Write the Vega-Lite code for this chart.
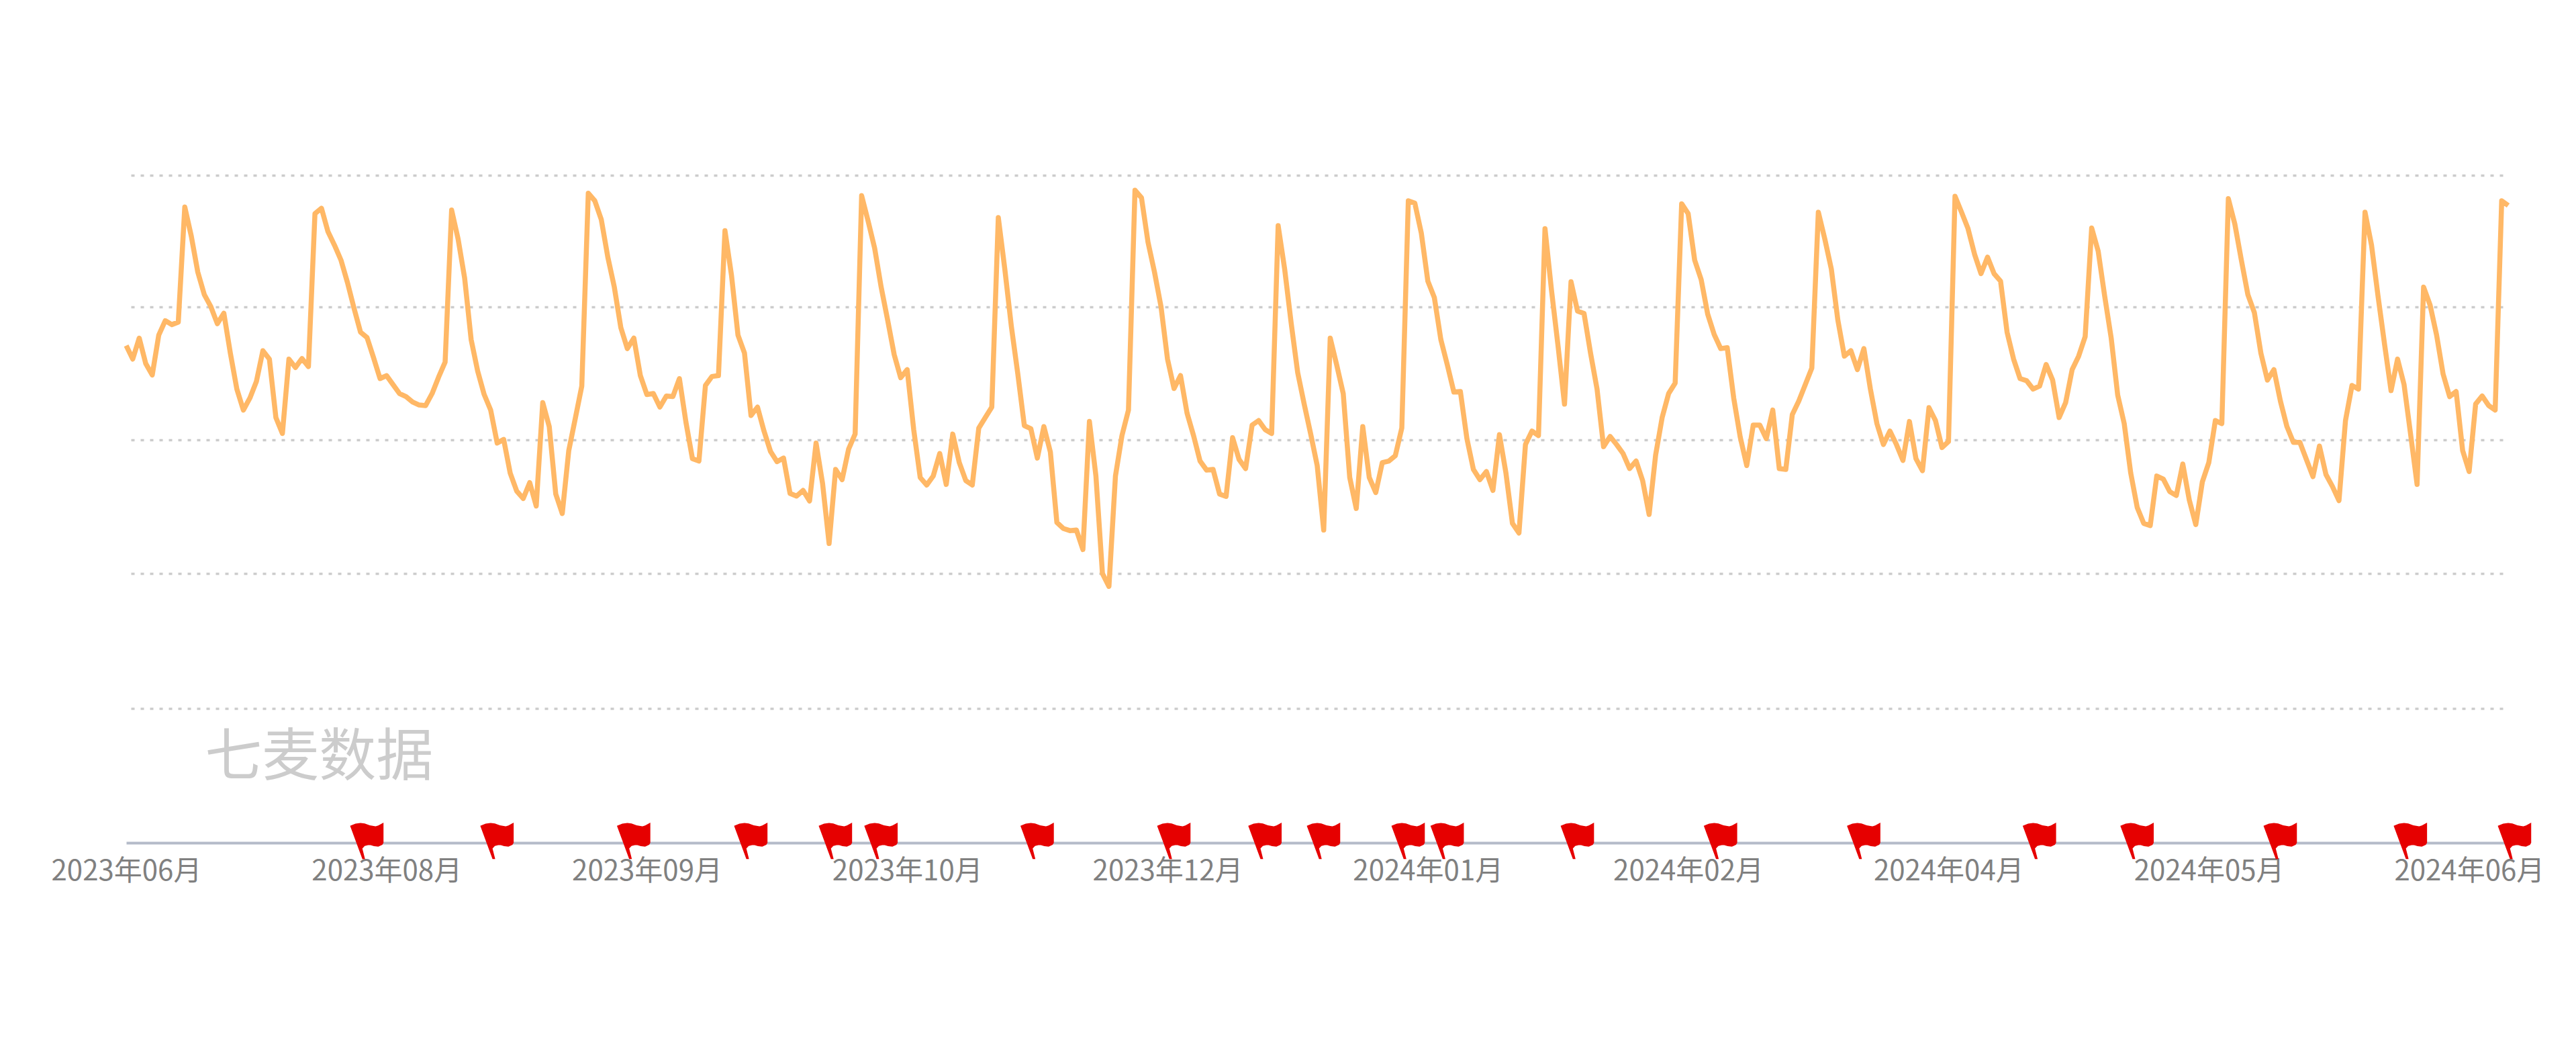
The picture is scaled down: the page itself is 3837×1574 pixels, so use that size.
{"$schema":"https://vega.github.io/schema/vega-lite/v6.json","autosize":{"type":"none"},"padding":{"left":188,"top":261,"right":101,"bottom":319},"width":3548,"height":994,"background":"white","config":{"view":{"stroke":null}},
"datasets":{
"trend":[
{"date":"2023-06-26","v":1658},{"date":"2023-06-27","v":1613},{"date":"2023-06-28","v":1683},{"date":"2023-06-29","v":1598},{"date":"2023-06-30","v":1560},
{"date":"2023-07-01","v":1693},{"date":"2023-07-02","v":1741},{"date":"2023-07-03","v":1728},{"date":"2023-07-04","v":1736},{"date":"2023-07-05","v":2120},{"date":"2023-07-06","v":2023},{"date":"2023-07-07","v":1903},{"date":"2023-07-08","v":1828},{"date":"2023-07-09","v":1788},{"date":"2023-07-10","v":1731},{"date":"2023-07-11","v":1766},{"date":"2023-07-12","v":1633},{"date":"2023-07-13","v":1513},{"date":"2023-07-14","v":1443},{"date":"2023-07-15","v":1483},{"date":"2023-07-16","v":1538},{"date":"2023-07-17","v":1641},{"date":"2023-07-18","v":1613},{"date":"2023-07-19","v":1418},{"date":"2023-07-20","v":1365},{"date":"2023-07-21","v":1613},{"date":"2023-07-22","v":1585},{"date":"2023-07-23","v":1615},{"date":"2023-07-24","v":1588},{"date":"2023-07-25","v":2098},{"date":"2023-07-26","v":2116},{"date":"2023-07-27","v":2038},{"date":"2023-07-28","v":1993},{"date":"2023-07-29","v":1943},{"date":"2023-07-30","v":1868},{"date":"2023-07-31","v":1783},
{"date":"2023-08-01","v":1703},{"date":"2023-08-02","v":1685},{"date":"2023-08-03","v":1618},{"date":"2023-08-04","v":1548},{"date":"2023-08-05","v":1558},{"date":"2023-08-06","v":1528},{"date":"2023-08-07","v":1498},{"date":"2023-08-08","v":1488},{"date":"2023-08-09","v":1470},{"date":"2023-08-10","v":1460},{"date":"2023-08-11","v":1458},{"date":"2023-08-12","v":1498},{"date":"2023-08-13","v":1553},{"date":"2023-08-14","v":1603},{"date":"2023-08-15","v":2110},{"date":"2023-08-16","v":2013},{"date":"2023-08-17","v":1883},{"date":"2023-08-18","v":1678},{"date":"2023-08-19","v":1573},{"date":"2023-08-20","v":1495},{"date":"2023-08-21","v":1443},{"date":"2023-08-22","v":1333},{"date":"2023-08-23","v":1345},{"date":"2023-08-24","v":1233},{"date":"2023-08-25","v":1173},{"date":"2023-08-26","v":1148},{"date":"2023-08-27","v":1201},{"date":"2023-08-28","v":1123},{"date":"2023-08-29","v":1468},{"date":"2023-08-30","v":1388},{"date":"2023-08-31","v":1163},
{"date":"2023-09-01","v":1098},{"date":"2023-09-02","v":1308},{"date":"2023-09-03","v":1415},{"date":"2023-09-04","v":1523},{"date":"2023-09-05","v":2166},{"date":"2023-09-06","v":2141},{"date":"2023-09-07","v":2078},{"date":"2023-09-08","v":1953},{"date":"2023-09-09","v":1853},{"date":"2023-09-10","v":1718},{"date":"2023-09-11","v":1648},{"date":"2023-09-12","v":1683},{"date":"2023-09-13","v":1558},{"date":"2023-09-14","v":1495},{"date":"2023-09-15","v":1498},{"date":"2023-09-16","v":1453},{"date":"2023-09-17","v":1490},{"date":"2023-09-18","v":1488},{"date":"2023-09-19","v":1548},{"date":"2023-09-20","v":1403},{"date":"2023-09-21","v":1281},{"date":"2023-09-22","v":1273},{"date":"2023-09-23","v":1525},{"date":"2023-09-24","v":1555},{"date":"2023-09-25","v":1558},{"date":"2023-09-26","v":2041},{"date":"2023-09-27","v":1893},{"date":"2023-09-28","v":1693},{"date":"2023-09-29","v":1633},{"date":"2023-09-30","v":1425},
{"date":"2023-10-01","v":1453},{"date":"2023-10-02","v":1373},{"date":"2023-10-03","v":1305},{"date":"2023-10-04","v":1271},{"date":"2023-10-05","v":1283},{"date":"2023-10-06","v":1165},{"date":"2023-10-07","v":1156},{"date":"2023-10-08","v":1175},{"date":"2023-10-09","v":1140},{"date":"2023-10-10","v":1333},{"date":"2023-10-11","v":1198},{"date":"2023-10-12","v":998},{"date":"2023-10-13","v":1245},{"date":"2023-10-14","v":1211},{"date":"2023-10-15","v":1313},{"date":"2023-10-16","v":1363},{"date":"2023-10-17","v":2158},{"date":"2023-10-18","v":2073},{"date":"2023-10-19","v":1983},{"date":"2023-10-20","v":1853},{"date":"2023-10-21","v":1743},{"date":"2023-10-22","v":1628},{"date":"2023-10-23","v":1551},{"date":"2023-10-24","v":1578},{"date":"2023-10-25","v":1378},{"date":"2023-10-26","v":1218},{"date":"2023-10-27","v":1193},{"date":"2023-10-28","v":1223},{"date":"2023-10-29","v":1298},{"date":"2023-10-30","v":1195},{"date":"2023-10-31","v":1363},
{"date":"2023-11-01","v":1268},{"date":"2023-11-02","v":1208},{"date":"2023-11-03","v":1193},{"date":"2023-11-04","v":1383},{"date":"2023-11-05","v":1418},{"date":"2023-11-06","v":1453},{"date":"2023-11-07","v":2085},{"date":"2023-11-08","v":1913},{"date":"2023-11-09","v":1723},{"date":"2023-11-10","v":1563},{"date":"2023-11-11","v":1391},{"date":"2023-11-12","v":1381},{"date":"2023-11-13","v":1283},{"date":"2023-11-14","v":1388},{"date":"2023-11-15","v":1303},{"date":"2023-11-16","v":1068},{"date":"2023-11-17","v":1048},{"date":"2023-11-18","v":1041},{"date":"2023-11-19","v":1043},{"date":"2023-11-20","v":978},{"date":"2023-11-21","v":1405},{"date":"2023-11-22","v":1223},{"date":"2023-11-23","v":898},{"date":"2023-11-24","v":855},{"date":"2023-11-25","v":1223},{"date":"2023-11-26","v":1358},{"date":"2023-11-27","v":1443},{"date":"2023-11-28","v":2176},{"date":"2023-11-29","v":2151},{"date":"2023-11-30","v":2003},
{"date":"2023-12-01","v":1903},{"date":"2023-12-02","v":1788},{"date":"2023-12-03","v":1613},{"date":"2023-12-04","v":1515},{"date":"2023-12-05","v":1558},{"date":"2023-12-06","v":1433},{"date":"2023-12-07","v":1358},{"date":"2023-12-08","v":1273},{"date":"2023-12-09","v":1243},{"date":"2023-12-10","v":1245},{"date":"2023-12-11","v":1163},{"date":"2023-12-12","v":1155},{"date":"2023-12-13","v":1351},{"date":"2023-12-14","v":1278},{"date":"2023-12-15","v":1248},{"date":"2023-12-16","v":1393},{"date":"2023-12-17","v":1408},{"date":"2023-12-18","v":1378},{"date":"2023-12-19","v":1365},{"date":"2023-12-20","v":2058},{"date":"2023-12-21","v":1913},{"date":"2023-12-22","v":1733},{"date":"2023-12-23","v":1568},{"date":"2023-12-24","v":1463},{"date":"2023-12-25","v":1363},{"date":"2023-12-26","v":1258},{"date":"2023-12-27","v":1043},{"date":"2023-12-28","v":1683},{"date":"2023-12-29","v":1593},{"date":"2023-12-30","v":1498},{"date":"2023-12-31","v":1218},
{"date":"2024-01-01","v":1115},{"date":"2024-01-02","v":1388},{"date":"2024-01-03","v":1218},{"date":"2024-01-04","v":1168},{"date":"2024-01-05","v":1268},{"date":"2024-01-06","v":1273},{"date":"2024-01-07","v":1291},{"date":"2024-01-08","v":1383},{"date":"2024-01-09","v":2141},{"date":"2024-01-10","v":2133},{"date":"2024-01-11","v":2033},{"date":"2024-01-12","v":1873},{"date":"2024-01-13","v":1818},{"date":"2024-01-14","v":1678},{"date":"2024-01-15","v":1593},{"date":"2024-01-16","v":1503},{"date":"2024-01-17","v":1505},{"date":"2024-01-18","v":1348},{"date":"2024-01-19","v":1245},{"date":"2024-01-20","v":1211},{"date":"2024-01-21","v":1238},{"date":"2024-01-22","v":1175},{"date":"2024-01-23","v":1361},{"date":"2024-01-24","v":1233},{"date":"2024-01-25","v":1065},{"date":"2024-01-26","v":1033},{"date":"2024-01-27","v":1328},{"date":"2024-01-28","v":1373},{"date":"2024-01-29","v":1358},{"date":"2024-01-30","v":2048},{"date":"2024-01-31","v":1843},
{"date":"2024-02-01","v":1658},{"date":"2024-02-02","v":1463},{"date":"2024-02-03","v":1871},{"date":"2024-02-04","v":1773},{"date":"2024-02-05","v":1765},{"date":"2024-02-06","v":1633},{"date":"2024-02-07","v":1513},{"date":"2024-02-08","v":1321},{"date":"2024-02-09","v":1355},{"date":"2024-02-10","v":1328},{"date":"2024-02-11","v":1298},{"date":"2024-02-12","v":1248},{"date":"2024-02-13","v":1273},{"date":"2024-02-14","v":1208},{"date":"2024-02-15","v":1095},{"date":"2024-02-16","v":1293},{"date":"2024-02-17","v":1418},{"date":"2024-02-18","v":1498},{"date":"2024-02-19","v":1533},{"date":"2024-02-20","v":2131},{"date":"2024-02-21","v":2098},{"date":"2024-02-22","v":1943},{"date":"2024-02-23","v":1878},{"date":"2024-02-24","v":1763},{"date":"2024-02-25","v":1695},{"date":"2024-02-26","v":1648},{"date":"2024-02-27","v":1651},{"date":"2024-02-28","v":1483},{"date":"2024-02-29","v":1353},
{"date":"2024-03-01","v":1258},{"date":"2024-03-02","v":1393},{"date":"2024-03-03","v":1393},{"date":"2024-03-04","v":1348},{"date":"2024-03-05","v":1443},{"date":"2024-03-06","v":1248},{"date":"2024-03-07","v":1245},{"date":"2024-03-08","v":1428},{"date":"2024-03-09","v":1473},{"date":"2024-03-10","v":1528},{"date":"2024-03-11","v":1583},{"date":"2024-03-12","v":2103},{"date":"2024-03-13","v":2013},{"date":"2024-03-14","v":1913},{"date":"2024-03-15","v":1743},{"date":"2024-03-16","v":1623},{"date":"2024-03-17","v":1641},{"date":"2024-03-18","v":1578},{"date":"2024-03-19","v":1648},{"date":"2024-03-20","v":1513},{"date":"2024-03-21","v":1398},{"date":"2024-03-22","v":1328},{"date":"2024-03-23","v":1373},{"date":"2024-03-24","v":1328},{"date":"2024-03-25","v":1275},{"date":"2024-03-26","v":1405},{"date":"2024-03-27","v":1281},{"date":"2024-03-28","v":1241},{"date":"2024-03-29","v":1451},{"date":"2024-03-30","v":1408},{"date":"2024-03-31","v":1318},
{"date":"2024-04-01","v":1338},{"date":"2024-04-02","v":2156},{"date":"2024-04-03","v":2103},{"date":"2024-04-04","v":2048},{"date":"2024-04-05","v":1963},{"date":"2024-04-06","v":1898},{"date":"2024-04-07","v":1953},{"date":"2024-04-08","v":1898},{"date":"2024-04-09","v":1873},{"date":"2024-04-10","v":1703},{"date":"2024-04-11","v":1613},{"date":"2024-04-12","v":1548},{"date":"2024-04-13","v":1541},{"date":"2024-04-14","v":1513},{"date":"2024-04-15","v":1523},{"date":"2024-04-16","v":1595},{"date":"2024-04-17","v":1543},{"date":"2024-04-18","v":1418},{"date":"2024-04-19","v":1468},{"date":"2024-04-20","v":1578},{"date":"2024-04-21","v":1623},{"date":"2024-04-22","v":1688},{"date":"2024-04-23","v":2050},{"date":"2024-04-24","v":1973},{"date":"2024-04-25","v":1823},{"date":"2024-04-26","v":1683},{"date":"2024-04-27","v":1493},{"date":"2024-04-28","v":1398},{"date":"2024-04-29","v":1233},{"date":"2024-04-30","v":1118},
{"date":"2024-05-01","v":1065},{"date":"2024-05-02","v":1058},{"date":"2024-05-03","v":1223},{"date":"2024-05-04","v":1213},{"date":"2024-05-05","v":1171},{"date":"2024-05-06","v":1158},{"date":"2024-05-07","v":1263},{"date":"2024-05-08","v":1143},{"date":"2024-05-09","v":1061},{"date":"2024-05-10","v":1203},{"date":"2024-05-11","v":1268},{"date":"2024-05-12","v":1408},{"date":"2024-05-13","v":1398},{"date":"2024-05-14","v":2148},{"date":"2024-05-15","v":2063},{"date":"2024-05-16","v":1943},{"date":"2024-05-17","v":1828},{"date":"2024-05-18","v":1768},{"date":"2024-05-19","v":1633},{"date":"2024-05-20","v":1543},{"date":"2024-05-21","v":1578},{"date":"2024-05-22","v":1473},{"date":"2024-05-23","v":1388},{"date":"2024-05-24","v":1335},{"date":"2024-05-25","v":1335},{"date":"2024-05-26","v":1278},{"date":"2024-05-27","v":1221},{"date":"2024-05-28","v":1323},{"date":"2024-05-29","v":1228},{"date":"2024-05-30","v":1188},{"date":"2024-05-31","v":1141},
{"date":"2024-06-01","v":1408},{"date":"2024-06-02","v":1525},{"date":"2024-06-03","v":1513},{"date":"2024-06-04","v":2103},{"date":"2024-06-05","v":1993},{"date":"2024-06-06","v":1823},{"date":"2024-06-07","v":1663},{"date":"2024-06-08","v":1508},{"date":"2024-06-09","v":1613},{"date":"2024-06-10","v":1528},{"date":"2024-06-11","v":1363},{"date":"2024-06-12","v":1195},{"date":"2024-06-13","v":1853},{"date":"2024-06-14","v":1793},{"date":"2024-06-15","v":1693},{"date":"2024-06-16","v":1563},{"date":"2024-06-17","v":1488},{"date":"2024-06-18","v":1505},{"date":"2024-06-19","v":1308},{"date":"2024-06-20","v":1238},{"date":"2024-06-21","v":1463},{"date":"2024-06-22","v":1490},{"date":"2024-06-23","v":1458},{"date":"2024-06-24","v":1443},{"date":"2024-06-25","v":2141},{"date":"2024-06-26","v":2125}
],
"flags":[{"date":"2023-08-01","v":0},{"date":"2023-08-21","v":0},{"date":"2023-09-11","v":0},{"date":"2023-09-29","v":0},{"date":"2023-10-12","v":0},{"date":"2023-10-19","v":0},{"date":"2023-11-12","v":0},{"date":"2023-12-03","v":0},{"date":"2023-12-17","v":0},{"date":"2023-12-26","v":0},{"date":"2024-01-08","v":0},{"date":"2024-01-14","v":0},{"date":"2024-02-03","v":0},{"date":"2024-02-25","v":0},{"date":"2024-03-18","v":0},{"date":"2024-04-14","v":0},{"date":"2024-04-29","v":0},{"date":"2024-05-21","v":0},{"date":"2024-06-10","v":0},{"date":"2024-06-26","v":0}],
"mark":[{"date":"2023-07-08","v":282,"label":"七麦数据"}]
},
"encoding":{
"x":{"field":"date","type":"ordinal","scale":{"type":"point","padding":0},"sort":"ascending","title":null,"axis":{"values":["2023-06-26","2023-08-05","2023-09-14","2023-10-24","2023-12-03","2024-01-12","2024-02-21","2024-04-01","2024-05-11","2024-06-20"],"labelExpr":"slice(datum.value,0,4)+'年'+slice(datum.value,5,7)+'月'","labelAngle":0,"labelAlign":"center","labelOverlap":false,"labelLimit":400,"labelFont":"Noto Sans CJK SC","labelFontSize":42,"labelColor":"#808080","labelPadding":22,"ticks":false,"domainColor":"#b4bbc9","domainWidth":4,"grid":false}},
"y":{"field":"v","type":"quantitative","scale":{"domain":[0,2226],"nice":false,"zero":true},"title":null,"axis":{"values":[447,898,1343,1788,2226],"labels":false,"ticks":false,"domain":false,"grid":true,"gridColor":"#cccccc","gridWidth":3.5,"gridDash":[5,9],"gridDashOffset":7}}
},
"layer":[
{"data":{"name":"trend"},"mark":{"type":"line","color":"#ffb866","strokeWidth":7.5,"strokeJoin":"round","interpolate":"linear"}},
{"data":{"name":"flags"},"mark":{"type":"point","filled":true,"opacity":1,"color":"#e60000","size":2500,"shape":"M-0.62,-1.01 L-0.3,-1.14 L0,-1.18 L0.25,-1.15 L0.55,-1.04 L0.9,-0.98 L1.06,-1.03 L1.37,-1.2 L1.37,0 L1.3,0.12 L1.06,0.23 L0.8,0.2 L0.6,0.14 L0.45,0.14 L0.25,0.19 L0.11,0.34 L0.27,0.97 L0.11,0.97 Z"}},
{"data":{"name":"mark"},"mark":{"type":"text","align":"left","baseline":"middle","font":"Noto Sans CJK SC","fontSize":85,"color":"#cccccc","dx":1},"encoding":{"text":{"field":"label"}}}
]}
